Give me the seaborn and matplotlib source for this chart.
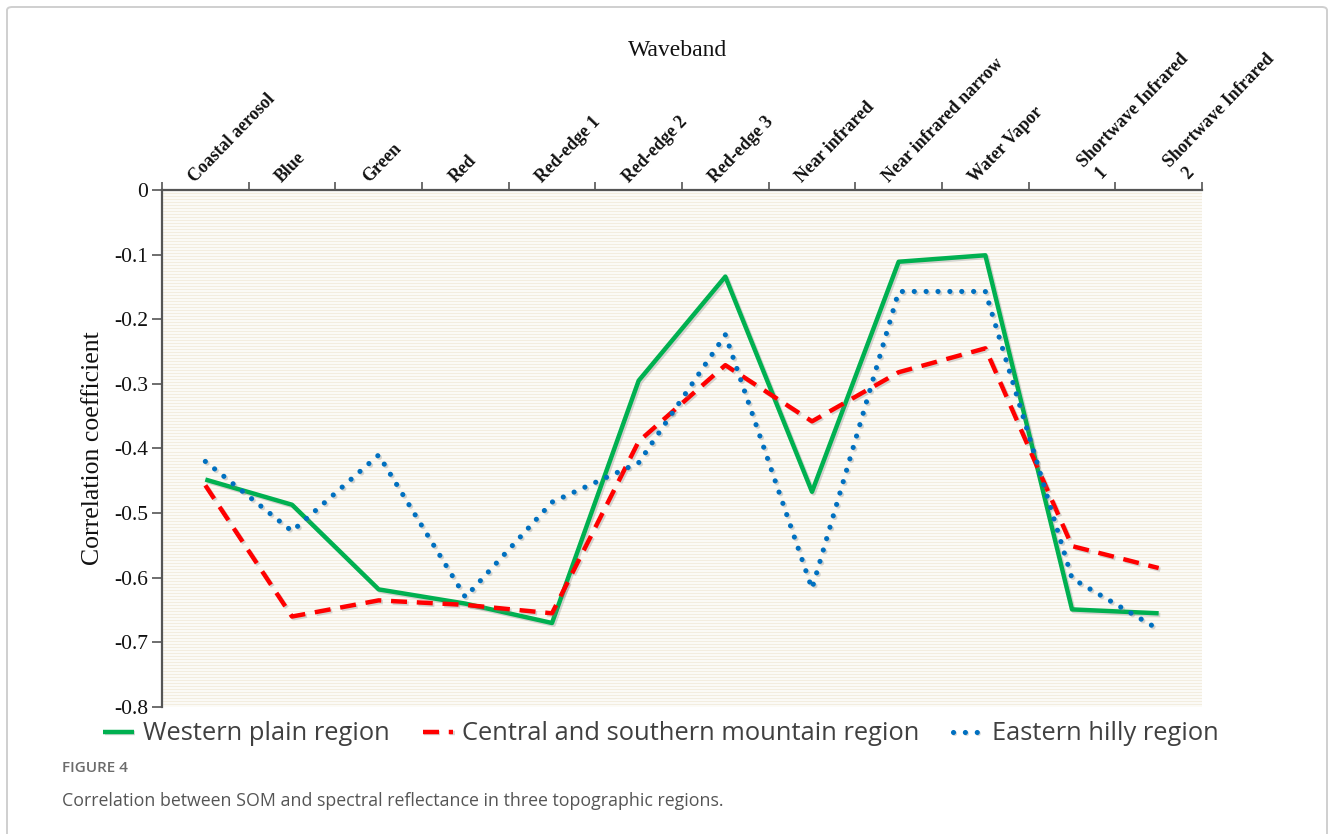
import numpy as np
import pandas as pd
import matplotlib
matplotlib.use("Agg")
import matplotlib.pyplot as plt
import matplotlib.patheffects as pe
from matplotlib.transforms import ScaledTranslation
from matplotlib.patches import FancyBboxPatch
import seaborn as sns

# ---- data -------------------------------------------------------------
bands = ["Coastal aerosol", "Blue", "Green", "Red", "Red-edge 1", "Red-edge 2",
         "Red-edge 3", "Near infrared", "Near infrared narrow", "Water Vapor",
         "Shortwave Infrared\n 1", "Shortwave Infrared\n 2"]

western = [-0.448, -0.487, -0.618, -0.640, -0.670, -0.295,
           -0.134, -0.467, -0.111, -0.101, -0.649, -0.655]
central = [-0.457, -0.660, -0.635, -0.642, -0.655, -0.389,
           -0.271, -0.358, -0.282, -0.245, -0.551, -0.585]
eastern = [-0.420, -0.528, -0.410, -0.630, -0.483, -0.422,
           -0.224, -0.617, -0.157, -0.157, -0.601, -0.680]

regions = ["Western plain region", "Central and southern mountain region",
           "Eastern hilly region"]
colors = ["#00B050", "#FF0000", "#0070C0"]

y_ticks = [0, -0.1, -0.2, -0.3, -0.4, -0.5, -0.6, -0.7, -0.8]
y_tick_labels = ["0", "-0.1", "-0.2", "-0.3", "-0.4", "-0.5", "-0.6", "-0.7", "-0.8"]

df = pd.DataFrame({
    "pos": np.tile(np.arange(len(bands)), 3),
    "value": western + central + eastern,
    "region": np.repeat(regions, len(bands)),
})

# ---- figure -----------------------------------------------------------
sns.set_theme(style="white")
plt.rcParams["font.family"] = ["Liberation Serif", "DejaVu Serif"]

W, H = 1330, 834
fig = plt.figure(figsize=(W / 100, H / 100), dpi=100)
fig.patch.set_facecolor("white")

# outer frame of the figure panel
frame = FancyBboxPatch((7 / W, -0.05), (1320 / W), 1.05 - 7 / H,
                       boxstyle="round,pad=0,rounding_size=0.004",
                       transform=fig.transFigure, fill=False,
                       edgecolor="#cfcfcf", linewidth=1.4)
fig.patches.append(frame)

ax = fig.add_axes([162 / W, 1 - 707 / H, (1202 - 162) / W, (707 - 190) / H])
ax.set_facecolor("#fcfbf7")

# striped plot background
stripe_y = np.arange(0, -0.8, -0.8 / 172)
ax.hlines(stripe_y, -0.5, 11.5, colors="#f3eddf", linewidth=0.75, zorder=0)

dash_map = {regions[0]: "", regions[1]: (3.6, 2.2), regions[2]: (0.01, 2.3)}
sns.lineplot(data=df, x="pos", y="value", hue="region", style="region",
             hue_order=regions, style_order=regions, palette=colors,
             dashes=dash_map, linewidth=3.2, ax=ax, legend=True, zorder=3)

shadow = [pe.SimpleLineShadow(offset=(1.2, -1.2), shadow_color="#808080", alpha=0.3),
          pe.Normal()]
for ln in ax.lines:
    ln.set_solid_capstyle("butt")
    ln.set_path_effects(shadow)
ax.lines[1].set_dash_capstyle("butt")
ax.lines[2].set_dash_capstyle("round")
ax.lines[2].set_linewidth(3.7)

ax.set_xlim(-0.5, 11.5)
ax.set_ylim(-0.8, 0)

# axes styling
for s in ["bottom", "right"]:
    ax.spines[s].set_visible(False)
for s in ["top", "left"]:
    ax.spines[s].set_color("#555555")
    ax.spines[s].set_linewidth(1.6)

ax.xaxis.tick_top()
ax.set_xticks(np.arange(len(bands)))
ax.set_xticklabels(bands, rotation=46, ha="left", va="bottom",
                   rotation_mode="anchor", fontsize=12.8, fontweight="bold",
                   color="#111111", linespacing=1.35)
ax.set_xticks(np.arange(-0.5, len(bands), 1), minor=True)
ax.tick_params(axis="x", which="major", length=0, pad=3)
ax.tick_params(axis="x", which="minor", top=True, bottom=False, length=6,
               width=1.2, color="#555555", direction="out")
for lbl in ax.get_xticklabels():
    dx = 30 if "\n" in lbl.get_text() else -7
    lbl.set_transform(lbl.get_transform() +
                      ScaledTranslation(dx / 100, 0, fig.dpi_scale_trans))

ax.set_yticks(y_ticks)
ax.set_yticklabels(y_tick_labels, fontsize=15.5, color="#111111")
ax.tick_params(axis="y", which="major", left=True, length=7, width=1.2,
               color="#555555", direction="out", pad=3)
ax.set_xlabel("")
ax.set_ylabel("Correlation coefficient", fontsize=18.5, color="#111111", labelpad=7)

fig.text(678 / W, 1 - 51 / H, "Waveband", ha="center", va="center",
         fontsize=17, color="#111111")

# legend below the plot area
handles, labels = ax.get_legend_handles_labels()
ax.get_legend().remove()
for h in handles:
    h.set_linewidth(3.2)
handles[2].set_dash_capstyle("round")
handles[2].set_linewidth(3.7)
leg = fig.legend(handles, labels, loc="center", ncol=3,
                 bbox_to_anchor=(661 / W, 1 - 734 / H), frameon=False,
                 handlelength=1.2, handletextpad=0.35, columnspacing=1.3,
                 prop={"family": "Open Sans", "size": 18.4})
for t in leg.get_texts():
    t.set_color("#404040")

# caption
fig.text(62 / W, 1 - 768 / H, "FIGURE 4", ha="left", va="center",
         fontsize=11, fontweight="semibold", color="#6b6b6b",
         family="Open Sans")
fig.text(62 / W, 1 - 801 / H,
         "Correlation between SOM and spectral reflectance in three topographic regions.",
         ha="left", va="center", fontsize=12.8, color="#555555", family="Open Sans")

fig.savefig("out.png", dpi=100)
